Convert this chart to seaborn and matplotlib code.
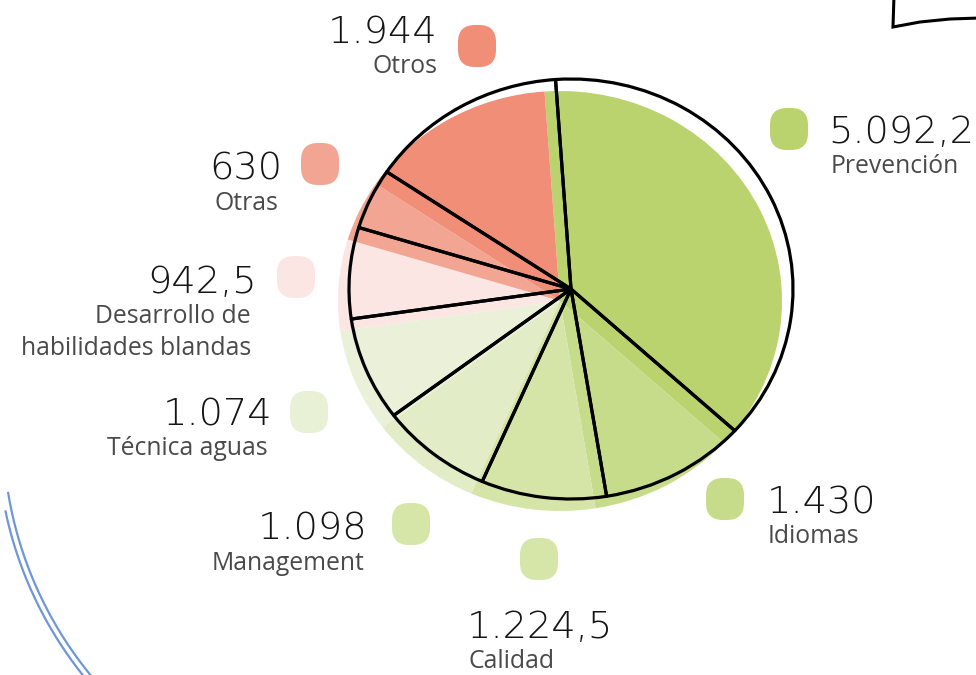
import numpy as np
import matplotlib
matplotlib.use("Agg")
import matplotlib.pyplot as plt
from matplotlib.patches import FancyBboxPatch
import seaborn as sns

# Training hours by area
categories = ["Prevención", "Idiomas", "Calidad", "Management", "Técnica aguas",
              "Desarrollo de\nhabilidades blandas", "Otras", "Otros"]
values = [5092.2, 1430, 1224.5, 1098, 1074, 942.5, 630, 1944]
value_labels = ["5.092,2", "1.430", "1.224,5", "1.098", "1.074", "942,5", "630", "1.944"]
hex_colors = ["#bad36e", "#c6dc8a", "#d5e5a7", "#e2ecc6", "#eaf1d8",
              "#fce6e3", "#f3a593", "#f08e78"]
blob_colors = ["#bad36e", "#c6dc8a", "#d6e6a9", "#d6e6a9", "#e8f0d5",
               "#fce6e3", "#f3a593", "#f08e78"]

sns.set_theme(style="white")
palette = sns.color_palette(hex_colors)
blob_palette = sns.color_palette(blob_colors)

W, H = 976, 675
fig = plt.figure(figsize=(W / 100, H / 100), dpi=100)
fig.patch.set_facecolor("white")

# Overlay axes in pixel coordinates for labels and decorations
ax_bg = fig.add_axes([0, 0, 1, 1])
ax_bg.set_xlim(0, W)
ax_bg.set_ylim(H, 0)
ax_bg.axis("off")

# Pie axes: one data unit = RX px horizontally, RY px vertically (slightly oval pie)
CX, CY, RX, RY, L = 571, 289, 222, 210, 1.3
ax = fig.add_axes([(CX - L * RX) / W, (H - CY - L * RY) / H, 2 * L * RX / W, 2 * L * RY / H])
ax.patch.set_alpha(0)

# Coloured fill, shifted down-left of the outline
fill_center = ((560 - CX) / RX, -(301 - CY) / RY)
ax.pie(values, colors=palette, startangle=94, counterclock=False, center=fill_center,
       radius=1.0, wedgeprops=dict(linewidth=0, edgecolor="none"))

# Black outline drawn on top
ax.pie(values, colors=["none"] * len(values), startangle=94, counterclock=False,
       center=(0, 0), radius=1.0,
       wedgeprops=dict(linewidth=2.3, edgecolor="black", facecolor="none",
                       joinstyle="round"))
ax.set_aspect("auto")
ax.set_xlim(-L, L)
ax.set_ylim(-L, L)
ax.axis("off")

# Label placement: blob centre, value anchor, alignment
layout = {
    "Prevención": dict(blob=(789, 129), x=828, y=143, ha="left", lx=831),
    "Idiomas": dict(blob=(725, 499), x=767, y=513, ha="left", lx=768),
    "Calidad": dict(blob=(539, 559), x=467, y=638, ha="left", lx=469),
    "Management": dict(blob=(411, 524), x=367, y=540, ha="right", lx=365),
    "Técnica aguas": dict(blob=(309, 412), x=272, y=425, ha="right", lx=268),
    "Desarrollo de\nhabilidades blandas": dict(blob=(296, 277), x=257, y=293, ha="right", lx=251),
    "Otras": dict(blob=(320, 164), x=246, y=180, ha="center", lx=246),
    "Otros": dict(blob=(477, 46), x=438, y=43, ha="right", lx=438),
}

num_font = dict(family="DejaVu Sans", fontweight=200, fontsize=27.5, color="#151515")
lab_font = dict(family="Open Sans", fontsize=17.8, color="#4a4a4a")

for cat, val, bcol in zip(categories, value_labels, blob_palette):
    p = layout[cat]
    bx, by = p["blob"]
    ax_bg.add_patch(FancyBboxPatch((bx - 19, by - 21), 38, 42,
                                   boxstyle="round,pad=0,rounding_size=17",
                                   facecolor=bcol, edgecolor="none"))
    ax_bg.text(p["x"], p["y"], val, ha=p["ha"], va="baseline", **num_font)
    for i, line in enumerate(cat.split("\n")):
        ax_bg.text(p["lx"], p["y"] + 30 + 32 * i, line, ha=p["ha"], va="baseline", **lab_font)

# Decorative blue arcs in the lower-left corner
for r, a0 in [(387, 170.8), (393, 168.2)]:
    t = np.radians(np.linspace(a0, 135, 200))
    ax_bg.plot(390 + r * np.cos(t), 430 + r * np.sin(t), color="#6f96d8", lw=1.6,
               solid_capstyle="butt")

# Corner of a hand-drawn frame at the top right
ax_bg.plot([894, 893, 920, 950, 980], [-5, 27, 22, 19, 18], color="black", lw=2.2,
           solid_joinstyle="miter")

fig.savefig("out.png", dpi=100)
